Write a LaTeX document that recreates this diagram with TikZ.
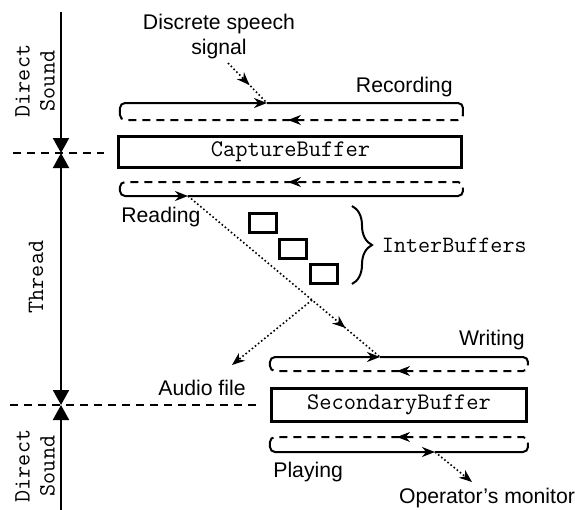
\documentclass[tikz,border=0pt]{standalone}
\usepackage{fontspec}
\setmainfont{Liberation Sans}
\usetikzlibrary{arrows.meta}
\usetikzlibrary{calc}
\usetikzlibrary{decorations.markings}
\usetikzlibrary{decorations.pathreplacing}

\tikzset{
  buffer/.style={draw, line width=1.5pt, inner sep=0pt, font=\fontsize{11.9}{13}\ttfamily},
  txt/.style={inner sep=0pt, font=\fontsize{10.6}{12.5}\selectfont},
  mono/.style={inner sep=0pt, align=center, font=\fontsize{11.7}{12.5}\ttfamily},
  flow/.style={line width=1pt, rounded corners=2.5pt},
  back/.style={flow, dash pattern=on 4pt off 3pt},
  fwd/.style={-{Stealth[length=6.5pt,width=5pt]}},
  dots/.style={line width=0.8pt, dash pattern=on 0.8pt off 1.2pt},
  midarrow/.style={postaction={decorate}, decoration={markings,
      mark=at position #1 with {\arrow{Stealth[length=6.5pt,width=5pt]}}}},
  axis/.style={line width=1pt},
  tri/.tip={Triangle[length=7.5pt,width=8pt]},
}

\begin{document}
\begin{tikzpicture}[x=0.5pt,y=-0.5pt]
\useasboundingbox (0,0) rectangle (575,510);

% time axis on the left
\coordinate (top) at (61,12);
\coordinate (m1) at (61,153);
\coordinate (m2) at (61,405);
\coordinate (bot) at (61,510);
\draw[axis,-{tri}] (top) -- (m1);
\draw[axis,{tri}-{tri}] (m1) -- (m2);
\draw[axis,-{tri}] (bot) -- (m2);
\draw[dash pattern=on 4pt off 3pt, line width=0.8pt] (13,153) -- (104,153);
\draw[dash pattern=on 4pt off 3pt, line width=0.8pt] (10,405) -- (256,405);
\node[mono, rotate=90] (ds1) at (35,81) {Direct\\Sound};
\node[mono, rotate=90] (thread) at (36,277) {Thread};
\node[mono, rotate=90] (ds2) at (35,466) {Direct\\Sound};

% buffers
\node[buffer, minimum width=171.5pt, minimum height=15.5pt] (cap) at (290.5,151.5) {CaptureBuffer};
\node[buffer, minimum width=127.5pt, minimum height=16.5pt] (sec) at (399,404.5) {SecondaryBuffer};
\node[buffer, minimum width=13.5pt, minimum height=9.5pt] (ib1) at (263,223) {};
\node[buffer, minimum width=13.5pt, minimum height=9.5pt] (ib2) at (293,248.5) {};
\node[buffer, minimum width=13.5pt, minimum height=9.5pt] (ib3) at (324,273.5) {};
\draw[line width=1pt, decorate, decoration={brace, amplitude=10pt}]
  (352,206) -- (352,284) node[midway, right=14.5pt, mono] (inter) {InterBuffers};

% recording loop
\coordinate (rec) at (267,103);
\draw[flow,fwd] (120,112) -- (120,103) -- (rec);
\draw[flow] (rec) -- (463,103) -- (463,112);
\draw[back] (120,112) -- (120,120) -- (463,120) -- (463,112);
\draw[fwd] (300,120) -- (288,120);
% reading loop
\coordinate (read) at (188,196);
\draw[back] (120,188) -- (120,182) -- (463,182) -- (463,188);
\draw[fwd] (300,182) -- (288,182);
\draw[flow,fwd] (120,188) -- (120,196) -- (read);
\draw[flow] (read) -- (463,196) -- (463,188);
% writing loop
\coordinate (wri) at (380,357);
\draw[flow,fwd] (270,364) -- (270,357) -- (wri);
\draw[flow] (wri) -- (528,357) -- (528,364);
\draw[back] (270,364) -- (270,371) -- (528,371) -- (528,364);
\draw[fwd] (410,371) -- (397,371);
% playing loop
\coordinate (play) at (435,452);
\draw[back] (270,444) -- (270,437) -- (528,437) -- (528,444);
\draw[fwd] (410,437) -- (397,437);
\draw[flow,fwd] (270,444) -- (270,452) -- (play);
\draw[flow] (play) -- (528,452) -- (528,444);

% labels
\node[txt, align=center] (speech) at (219,37) {Discrete speech\\signal};
\node[txt, anchor=east] (recording) at (453,87) {Recording};
\node[txt, anchor=west] (reading) at (121,217) {Reading};
\node[txt, anchor=east] (writing) at (525,340) {Writing};
\node[txt] (audio) at (202,388) {Audio file};
\node[txt, anchor=west] (playing) at (273,472) {Playing};
\node[txt] (monitor) at (487,498) {Operator's monitor};

% signal flow
\coordinate (s0) at (228,63);
\coordinate (br) at ($(read)!0.646!(wri)$);
\coordinate (af) at (232,365);
\coordinate (om) at (472,482);
\draw[dots, midarrow=0.55] (s0) -- (rec);
\draw[dots, midarrow=0.82] (read) -- (wri);
\draw[dots, fwd] (br) -- (af);
\draw[dots, fwd] (play) -- (om);
\end{tikzpicture}
\end{document}
